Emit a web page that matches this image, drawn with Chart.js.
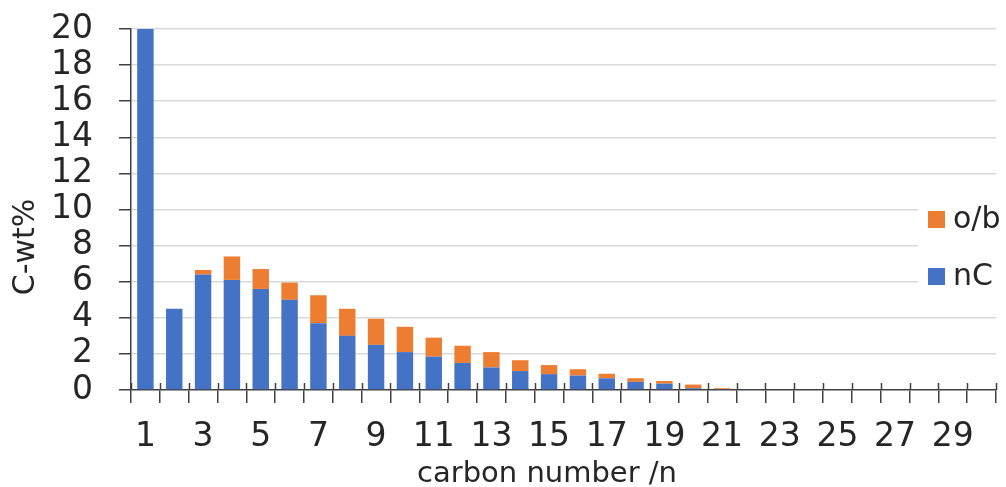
<!DOCTYPE html>
<html>
<head>
<meta charset="utf-8">
<script src="https://cdn.jsdelivr.net/npm/chart.js@4.4.1/dist/chart.umd.min.js"></script>
<style>
  html, body { margin: 0; padding: 0; background: #fff; }
  #wrap { width: 1006px; height: 487px; }
</style>
</head>
<body>
<div id="wrap"><canvas id="chart" width="1006" height="487"></canvas></div>
<script>
const carbonNumbers = [1, 2, 3, 4, 5, 6, 7, 8, 9, 10, 11, 12, 13, 14, 15,
  16, 17, 18, 19, 20, 21, 22, 23, 24, 25, 26, 27, 28, 29, 30];
const nC = [20, 4.5, 6.4, 6.1, 5.6, 5.0, 3.7, 3.0, 2.5, 2.1, 1.85, 1.5, 1.25, 1.05, 0.88,
  0.8, 0.65, 0.45, 0.35, 0.1, 0.05, 0.03, 0, 0, 0, 0, 0, 0, 0, 0];
const ob = [0, 0, 0.25, 1.3, 1.1, 0.95, 1.55, 1.5, 1.45, 1.4, 1.05, 0.95, 0.85, 0.6, 0.5,
  0.35, 0.25, 0.2, 0.15, 0.2, 0.05, 0, 0, 0, 0, 0, 0, 0, 0, 0];
const yTicks = [0, 2, 4, 6, 8, 10, 12, 14, 16, 18, 20];

const FONT = "'DejaVu Sans', sans-serif";
const TEXT = '#262626';
const AXIS = '#404040';

// short marks above the x axis so the ticks cross it
const crossTicks = {
  id: 'crossTicks',
  afterDatasetsDraw(chart) {
    const x = chart.scales.x, ctx = chart.ctx;
    const half = (x.getPixelForValue(1) - x.getPixelForValue(0)) / 2;
    const yAxis = chart.chartArea.bottom;
    ctx.save();
    ctx.strokeStyle = AXIS;
    ctx.lineWidth = 1.5;
    for (let i = 0; i <= carbonNumbers.length; i++) {
      const px = Math.round(x.getPixelForValue(i) - half) + 0.5;
      ctx.beginPath();
      ctx.moveTo(px, yAxis - 7);
      ctx.lineTo(px, yAxis);
      ctx.stroke();
    }
    ctx.restore();
  }
};

// axis titles and the boxed legend on the right
const extras = {
  id: 'extras',
  afterDraw(chart) {
    const ctx = chart.ctx;
    ctx.save();
    ctx.fillStyle = TEXT;
    ctx.font = '29px ' + FONT;
    ctx.textAlign = 'center';
    ctx.textBaseline = 'alphabetic';
    ctx.fillText('carbon number /n', 547, 482);

    ctx.translate(26, 247);
    ctx.rotate(-Math.PI / 2);
    ctx.font = '30px ' + FONT;
    ctx.textBaseline = 'middle';
    ctx.fillText('C-wt%', 0, 0);
    ctx.restore();

    ctx.save();
    ctx.fillStyle = '#fff';
    ctx.fillRect(918, 196, 88, 104);
    const items = chart.data.datasets.slice().reverse();
    items.forEach((ds, i) => {
      const cy = 219 + i * 57;
      ctx.fillStyle = ds.backgroundColor;
      ctx.fillRect(928, cy - 8, 17, 17);
      ctx.fillStyle = TEXT;
      ctx.font = '30px ' + FONT;
      ctx.textAlign = 'left';
      ctx.textBaseline = 'middle';
      ctx.fillText(ds.label, 953, cy + 1);
    });
    ctx.restore();
  }
};

new Chart(document.getElementById('chart'), {
  type: 'bar',
  data: {
    labels: carbonNumbers,
    datasets: [
      { label: 'nC', data: nC, backgroundColor: '#4472C4', barPercentage: 0.57, categoryPercentage: 1 },
      { label: 'o/b', data: ob, backgroundColor: '#ED7D31', barPercentage: 0.57, categoryPercentage: 1 }
    ]
  },
  options: {
    responsive: false,
    animation: false,
    layout: { padding: { top: 29, right: 10, left: 0, bottom: 0 } },
    plugins: { legend: { display: false }, tooltip: { enabled: false } },
    scales: {
      x: {
        stacked: true,
        grid: { display: true, offset: true, drawOnChartArea: false, color: AXIS, lineWidth: 1.5, tickLength: 13 },
        border: { display: true, color: AXIS, width: 1.5 },
        ticks: {
          autoSkip: false, maxRotation: 0, padding: 15, color: TEXT,
          font: { family: FONT, size: 33, lineHeight: 1.2 },
          callback: (v, i) => (i % 2 === 0 ? String(carbonNumbers[i]) : '')
        },
        afterFit: s => { s.height = 97; s.paddingLeft = 0; s.paddingRight = 0; }
      },
      y: {
        stacked: true,
        min: 0, max: 20,
        afterBuildTicks: s => { s.ticks = yTicks.map(v => ({ value: v })); },
        grid: {
          color: ctx => (ctx.tick && ctx.tick.value === 0 ? 'rgba(0,0,0,0)' : '#D9D9D9'),
          lineWidth: 1.5,
          tickColor: AXIS, tickLength: 12
        },
        border: { display: true, color: AXIS, width: 1.5 },
        ticks: { autoSkip: false, padding: 26, color: TEXT, font: { family: FONT, size: 33, lineHeight: 1.2 } },
        afterFit: s => { s.width = 131; s.paddingTop = 0; s.paddingBottom = 0; }
      }
    }
  },
  plugins: [crossTicks, extras]
});
</script>
</body>
</html>
